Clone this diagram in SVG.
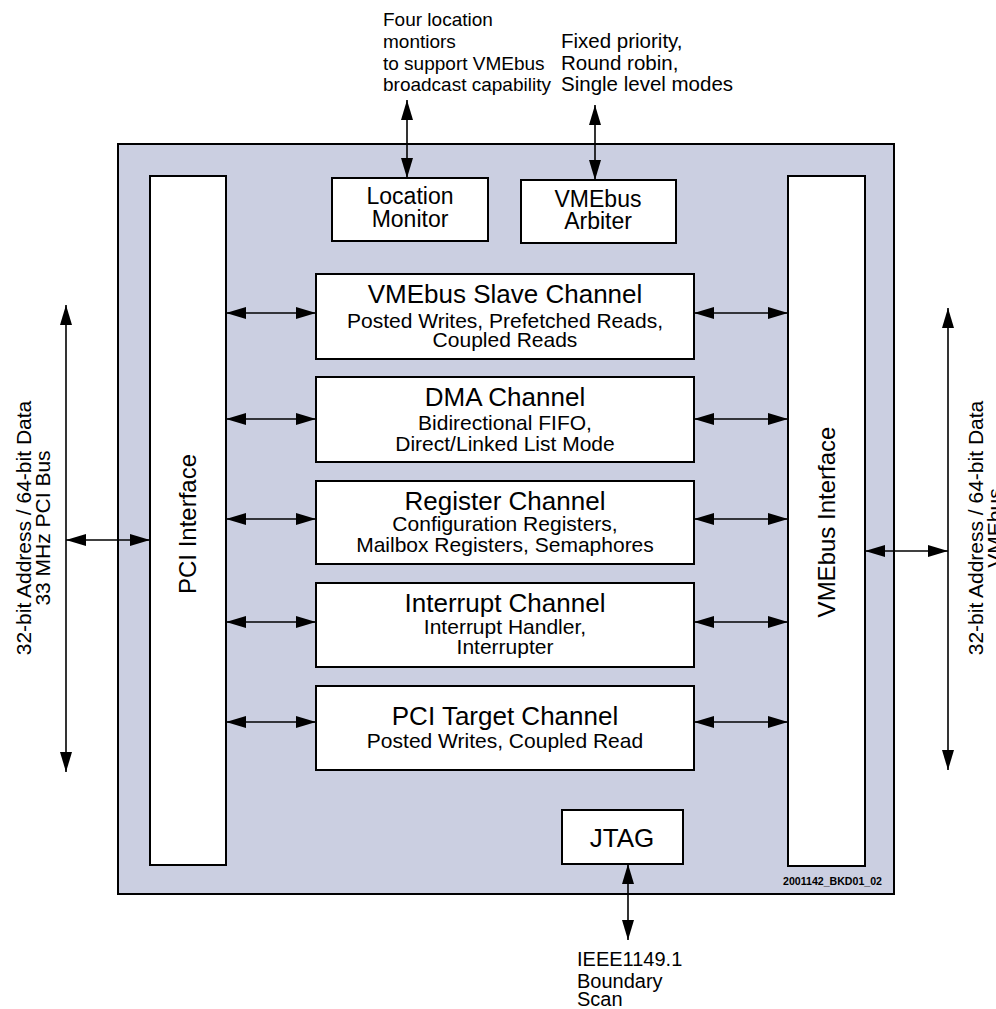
<svg xmlns="http://www.w3.org/2000/svg" width="996" height="1009" viewBox="0 0 996 1009">
<defs>
<marker id="ah" viewBox="0 0 20 12" refX="20" refY="6" markerWidth="20" markerHeight="12" markerUnits="userSpaceOnUse" orient="auto-start-reverse"><path d="M0,0 L20,6 L0,12 Z" fill="#000"/></marker>
<style>
.box{fill:#fff;stroke:#000;stroke-width:2}
.chip{fill:#CBCFE1;stroke:#000;stroke-width:2}
.conn line{stroke:#000;stroke-width:1.6;fill:none;marker-start:url(#ah);marker-end:url(#ah)}
text{font-family:"Liberation Sans",Arial,sans-serif;fill:#000}
.t{font-size:26px;text-anchor:middle}
.s{font-size:21px;text-anchor:middle}
.m{font-size:23px;text-anchor:middle}
.v{font-size:24px;text-anchor:middle}
.n{font-size:19px}
.q{font-size:20.5px}
.r{font-size:21px;text-anchor:middle}
</style>
</defs>
<rect x="0" y="0" width="996" height="1009" fill="#fff"/>
<g id="chip"><rect class="chip" x="118" y="144" width="776" height="750"/></g>

<g id="pci-interface"><rect class="box" x="150" y="176" width="76" height="689"/>
<text class="v" transform="translate(196,524) rotate(-90)">PCI Interface</text></g>
<g id="vme-interface"><rect class="box" x="788" y="176" width="77" height="690"/>
<text class="v" transform="translate(835,522) rotate(-90)">VMEbus Interface</text></g>

<g id="location-monitor"><rect class="box" x="332" y="178" width="156" height="63"/>
<text class="m" x="410" y="204">Location</text><text class="m" x="410" y="227">Monitor</text></g>
<g id="vme-arbiter"><rect class="box" x="521" y="180" width="155" height="63"/>
<text class="m" x="598" y="207">VMEbus</text><text class="m" x="598" y="229">Arbiter</text></g>

<g id="slave-channel"><rect class="box" x="316" y="274" width="378" height="85"/>
<text class="t" x="505" y="303">VMEbus Slave Channel</text>
<text class="s" x="505" y="328">Posted Writes, Prefetched Reads,</text>
<text class="s" x="505" y="347">Coupled Reads</text></g>
<g id="dma-channel"><rect class="box" x="316" y="377" width="378" height="85"/>
<text class="t" x="505" y="406">DMA Channel</text>
<text class="s" x="505" y="430">Bidirectional FIFO,</text>
<text class="s" x="505" y="451">Direct/Linked List Mode</text></g>
<g id="register-channel"><rect class="box" x="316" y="481" width="378" height="83"/>
<text class="t" x="505" y="510">Register Channel</text>
<text class="s" x="505" y="531">Configuration Registers,</text>
<text class="s" x="505" y="552">Mailbox Registers, Semaphores</text></g>
<g id="interrupt-channel"><rect class="box" x="316" y="583" width="378" height="84"/>
<text class="t" x="505" y="612">Interrupt Channel</text>
<text class="s" x="505" y="634">Interrupt Handler,</text>
<text class="s" x="505" y="654">Interrupter</text></g>
<g id="pci-target-channel"><rect class="box" x="316" y="686" width="378" height="84"/>
<text class="t" x="505" y="725">PCI Target Channel</text>
<text class="s" x="505" y="748">Posted Writes, Coupled Read</text></g>

<g id="jtag"><rect class="box" x="562" y="810" width="121" height="54"/>
<text class="m" x="622" y="847" style="font-size:26px">JTAG</text></g>

<g id="labels">
<text class="n" x="383" y="26">Four location</text>
<text class="n" x="383" y="48">montiors</text>
<text class="n" x="383" y="70">to support VMEbus</text>
<text class="n" x="383" y="91">broadcast capability</text>
<text class="q" x="561" y="48">Fixed priority,</text>
<text class="q" x="561" y="70">Round robin,</text>
<text class="q" x="561" y="91">Single level modes</text>
<text class="r" transform="translate(31,528) rotate(-90)">32-bit Address / 64-bit Data</text>
<text class="r" transform="translate(50,528) rotate(-90)">33 MHz PCI Bus</text>
<text class="r" transform="translate(983,528) rotate(-90)">32-bit Address / 64-bit Data</text>
<text class="r" transform="translate(1002,528) rotate(-90)">VMEbus</text>
<text x="577" y="966" style="font-size:20px">IEEE1149.1</text>
<text x="577" y="988" style="font-size:20px">Boundary</text>
<text x="577" y="1006" style="font-size:20px">Scan</text>
<text x="783" y="885" style="font-size:10px;font-weight:bold" textLength="99" lengthAdjust="spacingAndGlyphs">2001142_BKD01_02</text>
</g>

<g id="connectors" class="conn">
<line x1="407" y1="100" x2="407" y2="178"/>
<line x1="595" y1="105" x2="595" y2="180"/>
<line x1="66" y1="305" x2="66" y2="772"/>
<line x1="66" y1="540" x2="150" y2="540"/>
<line x1="948" y1="308" x2="948" y2="770"/>
<line x1="865" y1="551" x2="948" y2="551"/>
<line x1="226" y1="313" x2="316" y2="313"/>
<line x1="226" y1="419" x2="316" y2="419"/>
<line x1="226" y1="519" x2="316" y2="519"/>
<line x1="226" y1="622" x2="316" y2="622"/>
<line x1="226" y1="722" x2="316" y2="722"/>
<line x1="694" y1="313" x2="788" y2="313"/>
<line x1="694" y1="419" x2="788" y2="419"/>
<line x1="694" y1="519" x2="788" y2="519"/>
<line x1="694" y1="622" x2="788" y2="622"/>
<line x1="694" y1="722" x2="788" y2="722"/>
<line x1="628" y1="864" x2="628" y2="940"/>
</g>
</svg>
